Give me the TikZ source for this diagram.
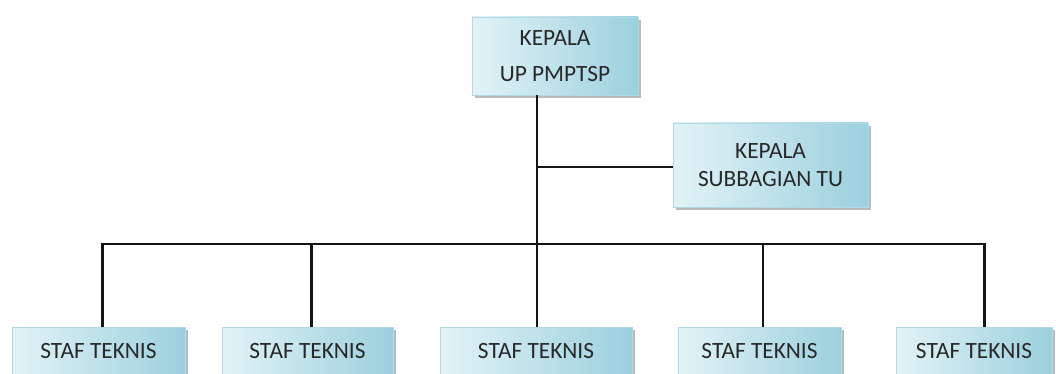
\documentclass[tikz,border=0pt]{standalone}
\usepackage{fontspec}
\setmainfont{Carlito}
\usetikzlibrary{positioning, calc, shadows}
\definecolor{boxlight}{RGB}{226,243,247}
\definecolor{boxdark}{RGB}{156,208,222}
\definecolor{linecol}{RGB}{20,20,20}
\definecolor{textcol}{RGB}{40,40,40}

\begin{document}
\begin{tikzpicture}[
			x=0.75pt,
			y=-0.75pt,
			unit/.style={
				rectangle,
				left color=boxlight,
				right color=boxdark,
				draw=boxdark!80!white,
				thin,
				drop shadow={shadow xshift=2pt, shadow yshift=-2pt, fill=black!45, opacity=0.6},
				font=\fontsize{17.5}{21}\selectfont,
				text=textcol,
				align=center,
				inner sep=0pt
			},
			link/.style={
				draw=linecol,
				line width=2pt
			}
			]
			\useasboundingbox (0,0) rectangle (1056,374);
			% Units
			\node[unit, minimum width=124.5pt, minimum height=58.5pt, font=\fontsize{17.5}{27}\selectfont] (kepala) at (555,56) {KEPALA\\UP PMPTSP};
			\node[unit, minimum width=146pt, minimum height=63pt, font=\fontsize{17.5}{21}\selectfont] (subbag) at (770.5,165) {KEPALA\\SUBBAGIAN TU};
			\node[unit, minimum width=130pt, minimum height=36pt] (staf1) at (98.5,351) {STAF TEKNIS};
			\node[unit, minimum width=128pt, minimum height=36pt] (staf2) at (307.5,351) {STAF TEKNIS};
			\node[unit, minimum width=144pt, minimum height=36pt] (staf3) at (536,351) {STAF TEKNIS};
			\node[unit, minimum width=122pt, minimum height=36pt] (staf4) at (759.5,351) {STAF TEKNIS};
			\node[unit, minimum width=117pt, minimum height=36pt] (staf5) at (974,351) {STAF TEKNIS};
			
			% Lines
			\coordinate (trunk) at (537,244);
			\path[link]
			(kepala.south -| trunk) -- (trunk)  % trunk down to the bus
			(subbag.west |- 0,167) -- (trunk |- 0,167)  % branch to subbagian
			([xshift=3pt]staf1.north) |- ([xshift=8pt]staf5.north |- trunk) -- ([xshift=8pt]staf5.north)
			([xshift=3pt]staf2.north) -- ([xshift=3pt]staf2.north |- trunk)
			(staf3.north -| trunk) -- (trunk)
			([xshift=2.5pt]staf4.north) -- ([xshift=2.5pt]staf4.north |- trunk);
		\end{tikzpicture}
\end{document}
